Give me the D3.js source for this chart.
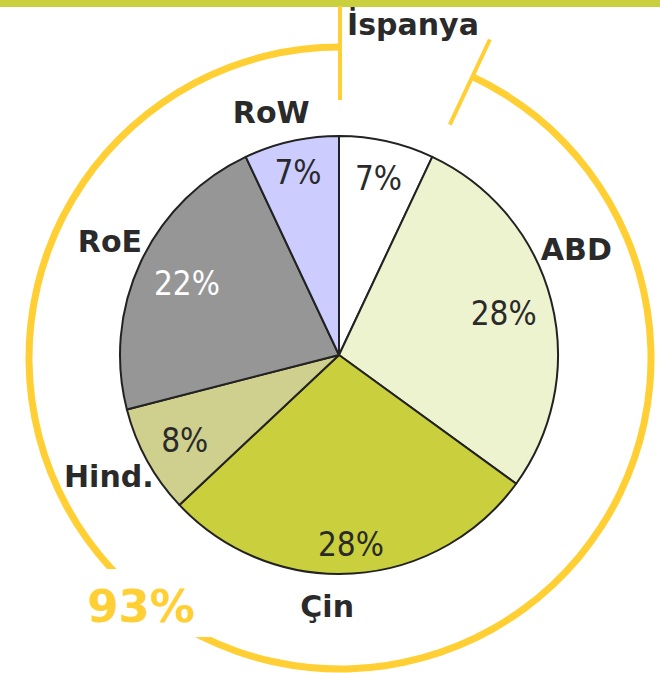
<!DOCTYPE html>
<html>
<head>
<meta charset="utf-8">
<script src="https://cdn.jsdelivr.net/npm/d3@7"></script>
<style>
  body { margin: 0; background: #fff; }
  text { font-family: "DejaVu Sans", sans-serif; }
  .pct { font-family: "DejaVu Sans Condensed", "DejaVu Sans", sans-serif; font-stretch: condensed; }
</style>
</head>
<body>
<script>
// data
var countries = ["İspanya", "ABD", "Çin", "Hind.", "RoE", "RoW"]
var shares = [7, 28, 28, 8, 22, 7]
var sliceColors = ["#ffffff", "#eef3cf", "#c9cf3d", "#d0d08e", "#969696", "#ccccff"]

// label layout (radius from pie centre, angle shift in degrees)
var nameRadius = [339, 260, 251, 260, 256, 252]
var nameShift = [0, -9.7, 6.3, 1.1, 1.3, -3]
var pctRadius = [181, 170, 189, 176, 168, 188]

var w = 660
var h = 673
var cx = 339, cy = 355, r = 219
var ringX = 340, ringY = 358, ringR = 311
var yellow = "#ffcf33"
var ink = "#2a2a2a"

var svg = d3.select("body")
	.append("svg")
	.attr("width", w)
	.attr("height", h)

// top bar
svg.append("rect")
	.attr("x", 0)
	.attr("y", 0)
	.attr("width", w)
	.attr("height", 7)
	.attr("fill", "#c9cf3d")

var pie = d3.pie().sort(null).value((d) => d)
var arcs = pie(shares)

function polar(x0, y0, rad, a){
	return [x0 + rad * Math.sin(a), y0 - rad * Math.cos(a)]
}

// yellow ring round everything but Spain
var ringStart = arcs[0].endAngle
var ring = d3.arc()
	.innerRadius(ringR - 3.5)
	.outerRadius(ringR + 3.5)
	.startAngle(ringStart)
	.endAngle(2 * Math.PI)

svg.append("path")
	.attr("transform", "translate(" + ringX + "," + ringY + ")")
	.attr("d", ring())
	.attr("fill", yellow)

// ring end ticks
svg.append("g")
	.selectAll("line")
	.data([0, ringStart])
	.enter()
	.append("line")
	.attr("x1", (a) => polar(ringX, ringY, 258, a)[0])
	.attr("y1", (a) => polar(ringX, ringY, 258, a)[1])
	.attr("x2", (a) => polar(ringX, ringY, 352, a)[0])
	.attr("y2", (a) => polar(ringX, ringY, 352, a)[1])
	.attr("stroke", yellow)
	.attr("stroke-width", 4)

// white box behind the total
svg.append("rect")
	.attr("x", 70)
	.attr("y", 569)
	.attr("width", 145)
	.attr("height", 68)
	.attr("fill", "#fff")

svg.append("text")
	.attr("x", 141)
	.attr("y", 622)
	.attr("text-anchor", "middle")
	.attr("font-size", 45)
	.attr("font-weight", "bold")
	.attr("fill", yellow)
	.text(d3.sum(shares.slice(1)) + "%")

// pie
var arc = d3.arc().innerRadius(0).outerRadius(r)

svg.append("g")
	.attr("transform", "translate(" + cx + "," + cy + ")")
	.selectAll("path")
	.data(arcs)
	.enter()
	.append("path")
	.attr("d", arc)
	.attr("fill", (d, i) => sliceColors[i])
	.attr("stroke", "#222")
	.attr("stroke-width", 2)
	.attr("stroke-linejoin", "round")

function mid(d){ return (d.startAngle + d.endAngle) / 2 }

// percent labels
svg.append("g")
	.selectAll("text")
	.data(arcs)
	.enter()
	.append("text")
	.attr("class", "pct")
	.attr("x", (d, i) => polar(cx, cy, pctRadius[i], mid(d))[0])
	.attr("y", (d, i) => polar(cx, cy, pctRadius[i], mid(d))[1] + 12)
	.attr("text-anchor", "middle")
	.attr("font-size", 33)
	.attr("fill", (d, i) => countries[i] == "RoE" ? "#fff" : ink)
	.text((d) => d.data + "%")

// country names
svg.append("g")
	.selectAll("text")
	.data(arcs)
	.enter()
	.append("text")
	.attr("x", (d, i) => polar(cx, cy, nameRadius[i], mid(d) + nameShift[i] * Math.PI / 180)[0])
	.attr("y", (d, i) => polar(cx, cy, nameRadius[i], mid(d) + nameShift[i] * Math.PI / 180)[1] + 11)
	.attr("text-anchor", "middle")
	.attr("font-size", 30)
	.attr("font-weight", "bold")
	.attr("fill", ink)
	.text((d, i) => countries[i])
</script>
</body>
</html>
